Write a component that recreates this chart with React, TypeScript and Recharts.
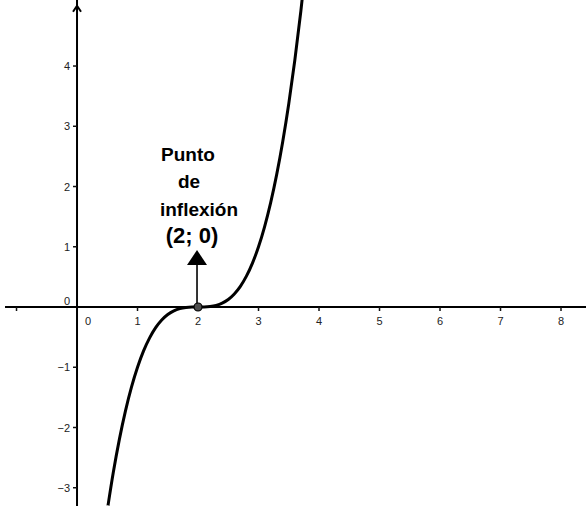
import React from "react";
import { LineChart, Line, XAxis, YAxis, ReferenceLine, ReferenceDot } from "recharts";

// Sampled points of g(x) = (x − 2)³
const xValues = [0.5, 0.6, 0.7, 0.8, 0.9, 1.0, 1.1, 1.2, 1.3, 1.4, 1.5, 1.6, 1.7, 1.8, 1.9, 2.0, 2.1, 2.2, 2.3, 2.4, 2.5, 2.6, 2.7, 2.8, 2.9, 3.0, 3.1, 3.2, 3.3, 3.4, 3.5, 3.6, 3.7, 3.8];
const yValues = [-3.375, -2.744, -2.197, -1.728, -1.331, -1.0, -0.729, -0.512, -0.343, -0.216, -0.125, -0.064, -0.027, -0.008, -0.001, 0, 0.001, 0.008, 0.027, 0.064, 0.125, 0.216, 0.343, 0.512, 0.729, 1.0, 1.331, 1.728, 2.197, 2.744, 3.375, 4.096, 4.913, 5.832];

const xTicks = [-1, 1, 2, 3, 4, 5, 6, 7, 8];
const xTickLabels = ["", "1", "2", "3", "4", "5", "6", "7", "8"];
const yTicks = [-3, -2, -1, 1, 2, 3, 4];
const yTickLabels = ["−3", "−2", "−1", "1", "2", "3", "4"];

const inflection = { x: 2, y: 0 };
const annotationLines = ["Punto", "de", "inflexión"];
const annotationCoords = "(2; 0)";
const yArrowTip = 5.0;
const xAxisStart = -1.19;

const xDomain: [number, number] = [-1.273, 8.413];
const yDomain: [number, number] = [-3.303, 5.096];

const data = xValues.map((x, i) => ({ x, y: yValues[i] }));

const labelFont = "'Liberation Sans', Arial, sans-serif";

const XTick = (label: string) => (props: any) => {
  const { cx, cy } = props;
  return (
    <g>
      <line x1={cx} y1={cy} x2={cx} y2={cy + 4} stroke="#111" strokeWidth={1.5} />
      {label ? (
        <text x={cx} y={cy + 18} textAnchor="middle" fontSize={11} fontFamily={labelFont} fill="#222">
          {label}
        </text>
      ) : null}
    </g>
  );
};

const YTick = (label: string) => (props: any) => {
  const { cx, cy } = props;
  return (
    <g>
      <line x1={cx - 4} y1={cy} x2={cx} y2={cy} stroke="#111" strokeWidth={1.5} />
      <text x={cx - 7} y={cy + 4} textAnchor="end" fontSize={11} fontFamily={labelFont} fill="#222">
        {label}
      </text>
    </g>
  );
};

const OriginLabels = (props: any) => {
  const { cx, cy } = props;
  return (
    <g>
      <text x={cx - 7} y={cy - 2} textAnchor="end" fontSize={11} fontFamily={labelFont} fill="#222">0</text>
      <text x={cx + 11} y={cy + 18} textAnchor="middle" fontSize={11} fontFamily={labelFont} fill="#222">0</text>
    </g>
  );
};

const AxisArrow = (props: any) => {
  const { cx, cy } = props;
  return (
    <path d={`M${cx - 4},${cy + 6} L${cx},${cy} L${cx + 4},${cy + 6}`} fill="none" stroke="#000" strokeWidth={2} />
  );
};

const InflectionMark = (props: any) => {
  const { cx, cy } = props;
  const boldFont = "'Liberation Sans', Arial, sans-serif";
  return (
    <g>
      <line x1={cx - 1} y1={cy} x2={cx - 1} y2={cy - 43} stroke="#000" strokeWidth={1.6} />
      <path d={`M${cx - 11},${cy - 42} L${cx - 1},${cy - 57} L${cx + 9},${cy - 42} Z`} fill="#000" />
      <text x={cx - 10} y={cy - 146} textAnchor="middle" fontSize={19} fontWeight="bold" fontFamily={boldFont} fill="#000">
        {annotationLines[0]}
      </text>
      <text x={cx - 9} y={cy - 119} textAnchor="middle" fontSize={19} fontWeight="bold" fontFamily={boldFont} fill="#000">
        {annotationLines[1]}
      </text>
      <text x={cx + 1} y={cy - 91} textAnchor="middle" fontSize={19} fontWeight="bold" fontFamily={boldFont} fill="#000">
        {annotationLines[2]}
      </text>
      <text x={cx - 6} y={cy - 64} textAnchor="middle" fontSize={22} fontWeight="bold" fontFamily={boldFont} fill="#000">
        {annotationCoords}
      </text>
      <circle cx={cx} cy={cy} r={4} fill="#4d4d4d" stroke="#000" strokeWidth={1.2} />
    </g>
  );
};

export default function App() {
  return (
    <div style={{ position: "absolute", left: 0, top: 0, width: 586, height: 506, background: "#fff" }}>
      <LineChart width={586} height={506} data={data} margin={{ top: 0, right: 0, bottom: 0, left: 0 }}>
        <XAxis dataKey="x" type="number" domain={xDomain} allowDataOverflow hide />
        <YAxis dataKey="y" type="number" domain={yDomain} allowDataOverflow hide />
        <ReferenceLine
          segment={[{ x: xAxisStart, y: 0 }, { x: xDomain[1], y: 0 }]}
          stroke="#000"
          strokeWidth={2}
          ifOverflow="visible"
        />
        <ReferenceLine x={0} stroke="#000" strokeWidth={2} ifOverflow="visible" />
        {xTicks.map((t, i) => (
          <ReferenceDot key={`xt${t}`} x={t} y={0} r={0} shape={XTick(xTickLabels[i])} />
        ))}
        {yTicks.map((t, i) => (
          <ReferenceDot key={`yt${t}`} x={0} y={t} r={0} shape={YTick(yTickLabels[i])} />
        ))}
        <ReferenceDot x={0} y={0} r={0} shape={OriginLabels} />
        <ReferenceDot x={0} y={yArrowTip} r={0} shape={AxisArrow} />
        <Line
          type="monotone"
          dataKey="y"
          stroke="#000"
          strokeWidth={3}
          dot={false}
          isAnimationActive={false}
        />
        <ReferenceDot x={inflection.x} y={inflection.y} r={0} shape={InflectionMark} />
      </LineChart>
    </div>
  );
}
